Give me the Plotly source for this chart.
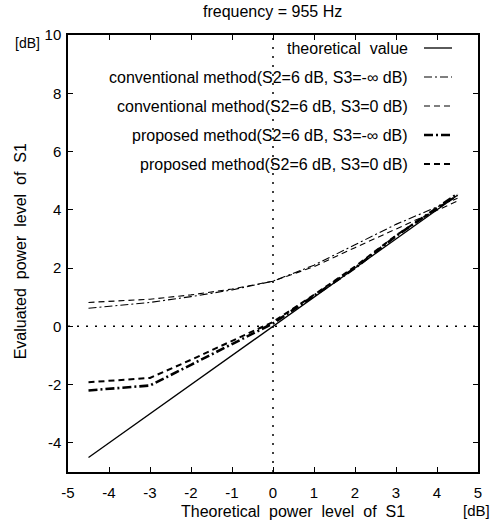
import plotly.graph_objects as go

x_theory = [-4.5, 4.5]
y_theory = [-4.5, 4.5]

x_meas = [-4.5, -3, -2, -1, 0, 1, 2, 3, 4.5]
conv_inf = [0.62, 0.82, 1.02, 1.25, 1.55, 2.1, 2.8, 3.5, 4.4]
conv_0 = [0.82, 0.93, 1.08, 1.28, 1.55, 2.05, 2.7, 3.35, 4.3]
prop_inf = [-2.2, -2.03, -1.32, -0.61, 0.1, 1.05, 2.0, 3.1, 4.55]
prop_0 = [-1.92, -1.77, -1.15, -0.5, 0.15, 1.08, 2.05, 3.12, 4.5]

x_tickvals = [-5, -4, -3, -2, -1, 0, 1, 2, 3, 4, 5]
x_ticktext = ["-5", "-4", "-3", "-2", "-1", "0", "1", "2", "3", "4", "5"]
y_tickvals = [-4, -2, 0, 2, 4, 6, 8, 10]
y_ticktext = ["-4", "-2", "0", "2", "4", "6", "8", "10"]

labels = [
    "theoretical  value",
    "conventional method(S2=6 dB, S3=-\u221e dB)",
    "conventional method(S2=6 dB, S3=0 dB)",
    "proposed method(S2=6 dB, S3=-\u221e dB)",
    "proposed method(S2=6 dB, S3=0 dB)",
]

styles = [
    dict(width=1.3, dash="solid"),
    dict(width=1.1, dash="8px,3px,2px,3px"),
    dict(width=1.1, dash="6px,4px"),
    dict(width=2.6, dash="9px,3px,2px,3px"),
    dict(width=2.0, dash="6px,4px"),
]

series = [
    (x_theory, y_theory),
    (x_meas, conv_inf),
    (x_meas, conv_0),
    (x_meas, prop_inf),
    (x_meas, prop_0),
]

fig = go.Figure()
for (xs, ys), st, lab in zip(series, styles, labels):
    fig.add_trace(go.Scatter(x=xs, y=ys, mode="lines", name=lab,
                             line=dict(color="black", **st), showlegend=False))

FONT = "Liberation Sans, Arial, sans-serif"

# dotted zero lines
fig.add_shape(type="line", x0=0, x1=0, y0=-5, y1=10, xref="x", yref="y",
              line=dict(color="black", width=1.5, dash="2px,7px"))
fig.add_shape(type="line", x0=-5, x1=5, y0=0, y1=0, xref="x", yref="y",
              line=dict(color="black", width=1.5, dash="2px,7px"))

# legend (text right-aligned, samples to the right)
row_y = [48, 77, 106, 135, 164]
for i, (lab, st) in enumerate(zip(labels, styles)):
    yp = 1 - (row_y[i] - 35) / 437.0
    fig.add_annotation(x=(410 - 68) / 410.0, y=yp, xref="paper", yref="paper",
                       text=lab, showarrow=False, xanchor="right", yanchor="middle",
                       font=dict(family=FONT, size=16, color="black"))
    fig.add_shape(type="line", xref="paper", yref="paper",
                  x0=(424 - 68) / 410.0, x1=(452 - 68) / 410.0, y0=yp, y1=yp,
                  line=dict(color="black", **st))

fig.add_annotation(x=(272 - 68) / 410.0, y=1, xref="paper", yref="paper", yshift=13,
                   text="frequency = 955 Hz", showarrow=False, yanchor="bottom",
                   font=dict(family=FONT, size=16, color="black"))
fig.add_annotation(x=0, y=1, xref="paper", yref="paper", xshift=-26, yshift=2,
                   text="[dB]", showarrow=False, xanchor="right", yanchor="top",
                   font=dict(family=FONT, size=14, color="black"))
fig.add_annotation(x=1, y=0, xref="paper", yref="paper", yshift=-38, xshift=-2,
                   text="[dB]", showarrow=False, xanchor="center", yanchor="middle",
                   font=dict(family=FONT, size=15, color="black"))
fig.add_annotation(x=(293 - 68) / 410.0, y=0, xref="paper", yref="paper", yshift=-39,
                   text="Theoretical  power  level  of  S1", showarrow=False,
                   xanchor="center", yanchor="middle",
                   font=dict(family=FONT, size=16, color="black"))
fig.add_annotation(x=0, y=0.505, xref="paper", yref="paper", xshift=-48,
                   text="Evaluated  power  level  of  S1", showarrow=False, textangle=-90,
                   xanchor="center", yanchor="middle",
                   font=dict(family=FONT, size=16, color="black"))

axis_common = dict(showline=True, linecolor="black", linewidth=1.5, mirror="ticks",
                   ticks="inside", ticklen=5, tickcolor="black", showgrid=False,
                   zeroline=False, tickfont=dict(family=FONT, size=15, color="black"))
fig.update_xaxes(range=[-5, 5], tickmode="array", tickvals=x_tickvals, ticktext=x_ticktext,
                 ticklabelstandoff=6, **axis_common)
fig.update_yaxes(range=[-5, 10], tickmode="array", tickvals=y_tickvals, ticktext=y_ticktext,
                 ticklabelstandoff=2, **axis_common)

fig.update_layout(width=493, height=529, margin=dict(l=68, r=15, t=35, b=57),
                  plot_bgcolor="white", paper_bgcolor="white", showlegend=False)

fig.write_html("out.html")
